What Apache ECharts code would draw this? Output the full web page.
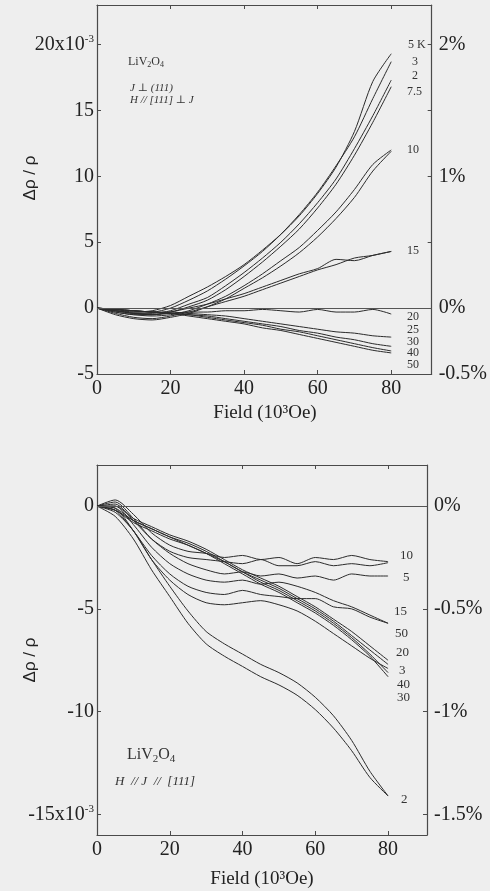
<!DOCTYPE html>
<html><head><meta charset="utf-8">
<script src="https://cdn.jsdelivr.net/npm/echarts@6/dist/echarts.min.js"></script>
<style>html,body{margin:0;padding:0;background:#eeeeee}#c{width:490px;height:891px}</style>
</head><body><div id="c"></div>
<script>
// Field values (10^3 Oe)
const fields = [0,5,10,15,20,25,30,35,40,45,50,55,60,65,70,75,80];
const xTicks = [0,20,40,60,80];
const topLeftTicks = [-5,0,5,10,15,20];
const topRightTicks = [-0.5,0,0.5,1,1.5,2];
const topRightLabels = [-0.5,0,1,2];
const botLeftTicks = [-15,-10,-5,0];
const botRightTicks = [-1.5,-1,-0.5,0];

// Upper panel: J ⊥ (111), H // [111] ⊥ J  (Δρ/ρ in 10^-3)
const top5K   = [0,-0.2,-0.3,-0.2,0.2,0.9,1.6,2.4,3.3,4.4,5.6,7.0,8.7,10.7,13.4,17.2,19.3];
const top3K   = [0,-0.1,-0.3,-0.3,0.0,0.6,1.3,2.2,3.2,4.3,5.6,7.1,8.8,10.8,13.0,15.9,18.7];
const top2K   = [0,-0.2,-0.4,-0.4,-0.2,0.3,0.8,1.7,2.7,3.8,5.0,6.4,8.0,9.8,12.1,14.6,17.3];
const top7p5K = [0,-0.3,-0.5,-0.5,-0.3,0.1,0.6,1.4,2.4,3.5,4.7,6.0,7.6,9.4,11.6,14.1,16.8];
const top10Ka = [0,-0.3,-0.5,-0.6,-0.5,-0.2,0.3,0.9,1.7,2.6,3.6,4.6,5.9,7.3,9.0,10.9,12.0];
const top10Kb = [0,-0.5,-0.8,-0.9,-0.7,-0.4,0.1,0.7,1.5,2.3,3.2,4.2,5.4,6.8,8.4,10.4,11.9];
const top15Ka = [0,-0.2,-0.4,-0.5,-0.3,0.0,0.3,0.7,1.1,1.6,2.1,2.6,3.0,3.7,3.6,4.0,4.3];
const top15Kb = [0,-0.4,-0.7,-0.8,-0.6,-0.3,0.1,0.5,0.9,1.4,1.9,2.4,2.9,3.3,3.8,4.0,4.3];
const top20K  = [0,-0.2,-0.4,-0.5,-0.4,-0.3,-0.3,-0.2,-0.2,-0.1,-0.2,-0.3,-0.1,-0.3,-0.3,-0.1,-0.45];
const top25K  = [0,-0.1,-0.2,-0.3,-0.3,-0.4,-0.5,-0.6,-0.8,-1.0,-1.2,-1.4,-1.6,-1.8,-1.9,-2.1,-2.2];
const top30K  = [0,-0.1,-0.2,-0.3,-0.4,-0.5,-0.6,-0.8,-1.0,-1.2,-1.4,-1.7,-1.9,-2.2,-2.4,-2.7,-2.9];
const top40K  = [0,-0.1,-0.2,-0.3,-0.4,-0.5,-0.7,-0.9,-1.1,-1.3,-1.6,-1.8,-2.1,-2.4,-2.7,-3.0,-3.25];
const top50K  = [0,-0.1,-0.2,-0.3,-0.4,-0.6,-0.8,-1.0,-1.2,-1.5,-1.7,-2.0,-2.3,-2.6,-2.9,-3.2,-3.4];

// Lower panel: H // J // [111]
const bot2Ka  = [0,-0.5,-1.6,-3.1,-4.4,-5.7,-6.7,-7.3,-7.8,-8.3,-8.7,-9.2,-9.9,-10.8,-11.9,-13.2,-14.1];
const bot2Kb  = [0,-0.3,-1.2,-2.6,-3.9,-5.1,-6.1,-6.7,-7.2,-7.7,-8.1,-8.6,-9.3,-10.2,-11.4,-12.9,-14.1];
const bot3K   = [0,-0.1,-1.2,-2.6,-3.6,-4.3,-4.7,-4.8,-4.7,-4.6,-4.8,-5.1,-5.6,-6.2,-6.8,-7.4,-7.9];
const bot5K   = [0,0.2,-0.6,-1.6,-2.3,-2.8,-3.1,-3.3,-3.2,-3.4,-3.3,-3.5,-3.4,-3.6,-3.3,-3.4,-3.4];
const bot10Ka = [0,0.3,-0.4,-1.3,-1.9,-2.2,-2.3,-2.5,-2.4,-2.6,-2.5,-2.8,-2.5,-2.6,-2.4,-2.6,-2.7];
const bot10Kb = [0,0.1,-0.7,-1.6,-2.2,-2.5,-2.6,-2.7,-2.8,-2.6,-2.9,-2.9,-2.7,-2.9,-2.8,-2.9,-2.75];
const bot15Ka = [0,0.0,-0.9,-2.0,-2.8,-3.3,-3.6,-3.7,-3.6,-3.8,-3.7,-3.9,-4.2,-4.6,-4.9,-5.3,-5.7];
const bot15Kb = [0,-0.2,-1.2,-2.4,-3.3,-3.9,-4.2,-4.3,-4.1,-4.3,-4.4,-4.5,-4.5,-4.9,-5.0,-5.4,-5.7];
const bot20K  = [0,-0.1,-0.7,-1.1,-1.5,-1.8,-2.2,-2.7,-3.2,-3.6,-4.0,-4.5,-5.0,-5.6,-6.3,-7.0,-7.7];
const bot30K  = [0,-0.2,-0.8,-1.2,-1.6,-1.9,-2.3,-2.8,-3.3,-3.8,-4.2,-4.7,-5.2,-5.8,-6.5,-7.3,-8.3];
const bot40K  = [0,-0.2,-0.7,-1.1,-1.5,-1.9,-2.3,-2.7,-3.2,-3.7,-4.1,-4.6,-5.1,-5.7,-6.4,-7.2,-8.1];
const bot50K  = [0,0.0,-0.6,-1.0,-1.4,-1.7,-2.1,-2.6,-3.1,-3.5,-3.9,-4.4,-4.9,-5.5,-6.1,-6.8,-7.5];

const topSeries = [top5K, top3K, top2K, top7p5K, top10Ka, top10Kb, top15Ka, top15Kb, top20K, top25K, top30K, top40K, top50K];
const botSeries = [bot2Ka, bot2Kb, bot3K, bot5K, bot10Ka, bot10Kb, bot15Ka, bot15Kb, bot20K, bot30K, bot40K, bot50K];

const topCurveLabels = [['5 K',408,45],['3',412,62],['2',412,76],['7.5',407,92],['10',407,150],['15',407,251],['20',407,317],['25',407,330],['30',407,342],['40',407,353],['50',407,365]];
const botCurveLabels = [['10',400,556],['5',403,578],['15',394,612],['50',395,634],['20',396,653],['3',399,671],['40',397,685],['30',397,698],['2',401,800]];

const SERIF = '"Liberation Serif", "DejaVu Serif", serif';
const INK = '#2b2b2b';
const AX = '#4a4a4a';

function line(arr, xi, yi, zero) {
  const s = {
    type: 'line', xAxisIndex: xi, yAxisIndex: yi,
    data: fields.map((f, i) => [f, arr[i]]),
    showSymbol: false, smooth: 0.25, silent: true,
    lineStyle: { color: INK, width: 1 }
  };
  if (zero) {
    s.markLine = { silent: true, symbol: 'none', label: { show: false },
      lineStyle: { color: '#555', width: 1, type: 'solid' }, data: [{ yAxis: 0 }] };
  }
  return s;
}

const supRich = { sup: { fontSize: 11, fontFamily: SERIF, color: '#222', padding: [0, 0, 10, 0] } };

function xAx(grid, pos, labels, max) {
  return {
    type: 'value', gridIndex: grid, position: pos, min: 0, max: max,
    axisLine: { show: true, onZero: false, lineStyle: { color: AX, width: 1.2 } },
    axisTick: { show: true, inside: true, length: 4, customValues: xTicks, lineStyle: { color: AX } },
    axisLabel: labels ? { show: true, customValues: xTicks, fontFamily: SERIF, fontSize: 20, color: '#222', margin: 5 } : { show: false },
    splitLine: { show: false }
  };
}

const option = {
  backgroundColor: '#eeeeee',
  animation: false,
  grid: [
    { left: 97, top: 5, width: 341, height: 369, containLabel: false },
    { left: 97, top: 465, width: 330, height: 370, containLabel: false }
  ],
  xAxis: [
    xAx(0, 'bottom', true, 91),
    xAx(0, 'top', false, 91),
    xAx(1, 'bottom', true, 90.7),
    xAx(1, 'top', false, 90.7)
  ],
  yAxis: [
    { type: 'value', gridIndex: 0, position: 'left', min: -5, max: 23,
      axisLine: { show: true, onZero: false, lineStyle: { color: AX, width: 1.2 } },
      axisTick: { show: true, inside: true, length: 4, customValues: topLeftTicks, lineStyle: { color: AX } },
      axisLabel: { customValues: topLeftTicks, fontFamily: SERIF, fontSize: 20, color: '#222', margin: 3,
        formatter: v => v === 20 ? '20x10{sup|-3}' : String(v), rich: supRich },
      splitLine: { show: false } },
    { type: 'value', gridIndex: 0, position: 'right', min: -0.5, max: 2.3,
      axisLine: { show: true, onZero: false, lineStyle: { color: AX, width: 1.2 } },
      axisTick: { show: true, inside: true, length: 4, customValues: topRightTicks, lineStyle: { color: AX } },
      axisLabel: { customValues: topRightLabels, fontFamily: SERIF, fontSize: 20, color: '#222', margin: 7,
        formatter: v => v + '%' },
      splitLine: { show: false } },
    { type: 'value', gridIndex: 1, position: 'left', min: -16, max: 2,
      axisLine: { show: true, onZero: false, lineStyle: { color: AX, width: 1.2 } },
      axisTick: { show: true, inside: true, length: 4, customValues: botLeftTicks, lineStyle: { color: AX } },
      axisLabel: { customValues: botLeftTicks, fontFamily: SERIF, fontSize: 20, color: '#222', margin: 3,
        formatter: v => v === -15 ? '-15x10{sup|-3}' : String(v), rich: supRich },
      splitLine: { show: false } },
    { type: 'value', gridIndex: 1, position: 'right', min: -1.6, max: 0.2,
      axisLine: { show: true, onZero: false, lineStyle: { color: AX, width: 1.2 } },
      axisTick: { show: true, inside: true, length: 4, customValues: botRightTicks, lineStyle: { color: AX } },
      axisLabel: { customValues: botRightTicks, fontFamily: SERIF, fontSize: 20, color: '#222', margin: 7,
        formatter: v => v + '%' },
      splitLine: { show: false } }
  ],
  series: [
    ...topSeries.map((a, i) => line(a, 0, 0, i === 0)),
    ...botSeries.map((a, i) => line(a, 2, 2, i === 0))
  ],
  graphic: [
    { type: 'text', x: 30, y: 178, rotation: Math.PI / 2,
      style: { text: 'Δρ / ρ', font: '17px "Liberation Sans", Arial, sans-serif', fill: '#222', textAlign: 'center', textVerticalAlign: 'middle' } },
    { type: 'text', x: 30, y: 660, rotation: Math.PI / 2,
      style: { text: 'Δρ / ρ', font: '17px "Liberation Sans", Arial, sans-serif', fill: '#222', textAlign: 'center', textVerticalAlign: 'middle' } },
    { type: 'text', x: 265, y: 413,
      style: { text: 'Field (10³Oe)', font: '19px ' + SERIF, fill: '#222', textAlign: 'center', textVerticalAlign: 'middle' } },
    { type: 'text', x: 262, y: 879,
      style: { text: 'Field (10³Oe)', font: '19px ' + SERIF, fill: '#222', textAlign: 'center', textVerticalAlign: 'middle' } },
    { type: 'text', x: 128, y: 62,
      style: { text: 'LiV{s|2}O{s|4}', font: '12px ' + SERIF, fill: '#333', textVerticalAlign: 'middle',
        rich: { s: { fontSize: 8, fontFamily: SERIF, fill: '#333', padding: [6, 0, 0, 0] } } } },
    { type: 'text', x: 130, y: 88,
      style: { text: 'J ⊥ (111)', font: 'italic 11px ' + SERIF, fill: '#333', textVerticalAlign: 'middle' } },
    { type: 'text', x: 130, y: 100,
      style: { text: 'H // [111] ⊥ J', font: 'italic 11px ' + SERIF, fill: '#333', textVerticalAlign: 'middle' } },
    { type: 'text', x: 127, y: 755,
      style: { text: 'LiV{s|2}O{s|4}', font: '16px ' + SERIF, fill: '#333', textVerticalAlign: 'middle',
        rich: { s: { fontSize: 11, fontFamily: SERIF, fill: '#333', padding: [8, 0, 0, 0] } } } },
    { type: 'text', x: 115, y: 782,
      style: { text: 'H  // J  //  [111]', font: 'italic 13px ' + SERIF, fill: '#333', textVerticalAlign: 'middle' } },
    ...topCurveLabels.map(([t, x, y]) => ({ type: 'text', x, y,
      style: { text: t, font: '12px ' + SERIF, fill: '#333', textVerticalAlign: 'middle' } })),
    ...botCurveLabels.map(([t, x, y]) => ({ type: 'text', x, y,
      style: { text: t, font: '13px ' + SERIF, fill: '#333', textVerticalAlign: 'middle' } }))
  ]
};

const chart = echarts.init(document.getElementById('c'), null, { renderer: 'canvas' });
chart.setOption(option);
</script>
</body></html>
